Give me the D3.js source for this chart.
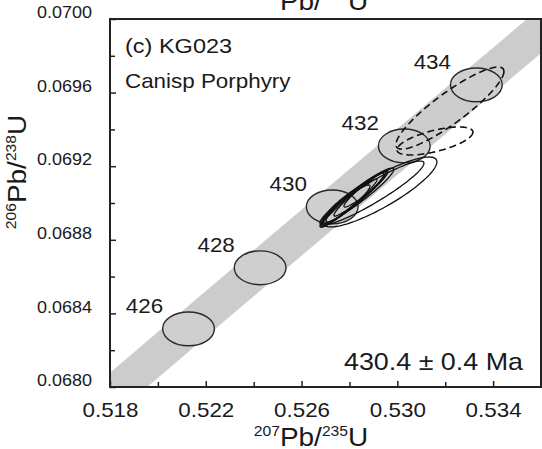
<!DOCTYPE html>
<html><head><meta charset="utf-8">
<script src="https://cdn.jsdelivr.net/npm/d3@7"></script>
<style>
body{margin:0;background:#fff;}
text{font-family:"Liberation Sans",Arial,Helvetica,sans-serif;fill:#1a1a1a;}
</style></head>
<body><svg id="c" width="542" height="449"></svg>
<script>
// ---- data ----
const xTicks = [0.518, 0.522, 0.526, 0.530, 0.534];
const xMinor = [0.520, 0.524, 0.528, 0.532];
const yTicks = [0.0680, 0.0684, 0.0688, 0.0692, 0.0696, 0.0700];
const yMinor = [0.0682, 0.0686, 0.0690, 0.0694, 0.0698];
// concordia age markers (Ma)
const ageLabels = [426, 428, 430, 432, 434];
const ageX = [0.52128, 0.52427, 0.52728, 0.53029, 0.53330];
const ageY = [0.068316, 0.068648, 0.068979, 0.069310, 0.069642];
// concordia band centre line and half-width (206/238 units)
const bandX = [0.5170, 0.52128, 0.52427, 0.52728, 0.53029, 0.53330, 0.5370];
const bandY = [0.067842, 0.068316, 0.068648, 0.068979, 0.069310, 0.069642, 0.070049];
const bandHalf = 0.000125;
// analyses: 207Pb/235U, 206Pb/238U, 2s errors, rho
const solX   = [0.528104, 0.528271, 0.527979, 0.528438, 0.527854, 0.528689, 0.529273, 0.528939, 0.528350];
const solY   = [0.069016, 0.069033, 0.069000, 0.069049, 0.068989, 0.069076, 0.069060, 0.069054, 0.069040];
const solSx  = [0.001336, 0.001253, 0.001169, 0.001086, 0.001002, 0.000919, 0.002380, 0.002171, 0.001500];
const solSy  = [0.000147, 0.000136, 0.000130, 0.000120, 0.000109, 0.000098, 0.000190, 0.000174, 0.000150];
const solRho = [0.96, 0.95, 0.97, 0.96, 0.94, 0.95, 0.86, 0.93, 0.95];
const dashX   = [0.532196, 0.531570];
const dashY   = [0.069516, 0.069337];
const dashSx  = [0.002255, 0.001587];
const dashSy  = [0.000223, 0.0000761];
const dashRho = [0.89, 0.63];
const sampleLabel = "(c) KG023";
const unitLabel = "Canisp Porphyry";
const ageResult = "430.4 ± 0.4 Ma";

// ---- drawing ----
const SX = 1.12; // horizontal stretch of the lettering
const svg = d3.select("#c");
const L = 110, R = 541, T = 19, B = 387;
const x = d3.scaleLinear().domain([0.518, 0.536]).range([L, R]);
const y = d3.scaleLinear().domain([0.0680, 0.0700]).range([B, T]);

svg.append("defs").append("clipPath").attr("id", "clip")
  .append("rect").attr("x", L).attr("y", T).attr("width", R - L).attr("height", B - T);
const plot = svg.append("g").attr("clip-path", "url(#clip)");

// band
const upper = bandX.map((d, i) => [x(d), y(bandY[i] + bandHalf)]);
const lower = bandX.map((d, i) => [x(d), y(bandY[i] - bandHalf)]).reverse();
plot.append("path").attr("d", d3.line()(upper.concat(lower)) + "Z")
  .attr("fill", "#cccccc").attr("stroke", "none");

function ellipsePath(cx, cy, sx, sy, rho, n = 120) {
  const px = x(cx), py = y(cy);
  const sxp = x(cx + sx) - px, syp = py - y(cy + sy);
  const r = -rho, q = Math.sqrt(1 - rho * rho);
  const pts = d3.range(n).map(i => {
    const t = 2 * Math.PI * i / n;
    return [px + sxp * Math.cos(t), py + syp * (r * Math.cos(t) + q * Math.sin(t))];
  });
  return d3.line()(pts) + "Z";
}

// age marker ellipses
const mrx = 0.00108, mry = 0.000092;
ageX.forEach((d, i) => {
  plot.append("ellipse").attr("cx", x(d)).attr("cy", y(ageY[i]))
    .attr("rx", x(d + mrx) - x(d)).attr("ry", y(ageY[i]) - y(ageY[i] + mry))
    .attr("fill", "#cfcfcf").attr("stroke", "#2a2a2a").attr("stroke-width", 1.4);
});

// analyses
dashX.forEach((d, i) => {
  plot.append("path").attr("d", ellipsePath(d, dashY[i], dashSx[i], dashSy[i], dashRho[i]))
    .attr("fill", "none").attr("stroke", "#111").attr("stroke-width", 1.6)
    .attr("stroke-dasharray", "7,4");
});
solX.forEach((d, i) => {
  plot.append("path").attr("d", ellipsePath(d, solY[i], solSx[i], solSy[i], solRho[i]))
    .attr("fill", "none").attr("stroke", "#111").attr("stroke-width", 1.3);
});

function stretchedText(g, tx, ty, str, size, anchor) {
  return g.append("text").attr("transform", `translate(${tx},${ty}) scale(${SX},1)`)
    .attr("font-size", size).attr("text-anchor", anchor || "start").text(str);
}

// age labels
ageLabels.forEach((a, i) => {
  stretchedText(svg, x(ageX[i]) - 44, y(ageY[i]) - 16, a, 20, "middle");
});

// axes
const xAxis = svg.append("g").attr("transform", `translate(0,${B})`)
  .call(d3.axisBottom(x).tickValues(xTicks).tickFormat(d3.format(".3f")).tickSizeInner(-6).tickSizeOuter(0));
const xMin = svg.append("g").attr("transform", `translate(0,${B})`)
  .call(d3.axisBottom(x).tickValues(xMinor).tickFormat("").tickSizeInner(-5).tickSizeOuter(0));
const yAxis = svg.append("g").attr("transform", `translate(${L},0)`)
  .call(d3.axisLeft(y).tickValues(yTicks).tickFormat(d3.format(".4f")).tickSizeInner(-6).tickSizeOuter(0));
const yMin = svg.append("g").attr("transform", `translate(${L},0)`)
  .call(d3.axisLeft(y).tickValues(yMinor).tickFormat("").tickSizeInner(-5).tickSizeOuter(0));
[xAxis, xMin, yAxis, yMin].forEach(g => {
  g.select(".domain").remove();
  g.selectAll(".tick line").attr("stroke", "#222").attr("stroke-width", 1.5);
});
xAxis.selectAll(".tick text").attr("font-size", 20).attr("fill", "#1a1a1a")
  .attr("y", null).attr("dy", null).attr("transform", `translate(0,30) scale(${SX},1)`);
yAxis.selectAll(".tick text").attr("font-size", 17).attr("fill", "#1a1a1a")
  .attr("x", null).attr("dy", "-0.08em").attr("transform", `translate(-18,0) scale(1.06,1)`);

// frame
svg.append("rect").attr("x", L).attr("y", T).attr("width", R - L).attr("height", B - T)
  .attr("fill", "none").attr("stroke", "#222").attr("stroke-width", 2);

// axis titles with superscripts
function isoTitle(g, sup1, main1, sup2, main2, size, ss) {
  const t = g.append("text").attr("font-size", size).attr("text-anchor", "middle");
  const up = size * 0.42;
  t.append("tspan").attr("font-size", ss).attr("dy", -up).text(sup1);
  t.append("tspan").attr("dy", up).text(main1);
  t.append("tspan").attr("font-size", ss).attr("dy", -up).text(sup2);
  t.append("tspan").attr("dy", up).text(main2);
  return t;
}
isoTitle(svg.append("g").attr("transform", `translate(311,446) scale(${SX},1)`), "207", "Pb/", "235", "U", 25, 14);
isoTitle(svg.append("g").attr("transform", `translate(311,10) scale(${SX},1)`), "207", "Pb/", "235", "U", 25, 14);
isoTitle(svg.append("g").attr("transform", `translate(26,172) rotate(-90) scale(${SX},1)`), "206", "Pb/", "238", "U", 25, 14);

// annotations
stretchedText(svg, 125, 53, sampleLabel, 21);
stretchedText(svg, 125, 88, unitLabel, 20);
stretchedText(svg, 523, 370, ageResult, 24, "end");
</script></body></html>
